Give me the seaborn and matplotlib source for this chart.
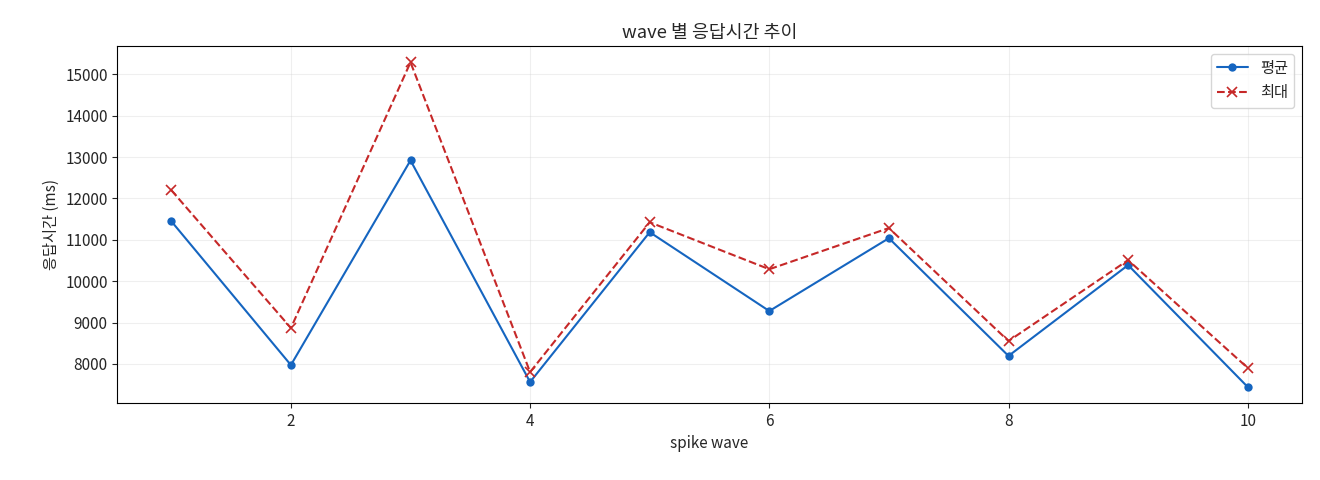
import matplotlib
matplotlib.use("Agg")
import matplotlib.pyplot as plt
import seaborn as sns
import pandas as pd

waves = [1, 2, 3, 4, 5, 6, 7, 8, 9, 10]
mean_ms = [11450, 7975, 12920, 7565, 11185, 9280, 11040, 8195, 10390, 7445]
max_ms = [12200, 8870, 15290, 7805, 11425, 10290, 11285, 8555, 10510, 7905]

sns.set_style("white")
plt.rcParams["font.family"] = ["Noto Sans CJK KR", "DejaVu Sans"]
plt.rcParams["axes.unicode_minus"] = False
plt.rcParams["font.size"] = 11

df = pd.DataFrame({"wave": waves, "mean": mean_ms, "max": max_ms})

fig, ax = plt.subplots(figsize=(13.2, 4.8), dpi=100)
sns.lineplot(data=df, x="wave", y="mean", ax=ax, color="#1565C0",
             marker="o", markersize=6, markeredgewidth=0, label="평균")
sns.lineplot(data=df, x="wave", y="max", ax=ax, color="#C62828",
             marker="x", markersize=7, markeredgewidth=1.2,
             markeredgecolor="#C62828", linestyle="--", label="최대")
ax.set_title("wave 별 응답시간 추이")
ax.set_xlabel("spike wave")
ax.set_ylabel("응답시간 (ms)")
ax.grid(True, alpha=0.3)
for s in ax.spines.values():
    s.set_color("black")
ax.tick_params(left=True, bottom=True)
ax.legend(loc="upper right")
fig.subplots_adjust(left=0.089, right=0.986, top=0.904, bottom=0.16)
plt.savefig("out.png", dpi=100)
